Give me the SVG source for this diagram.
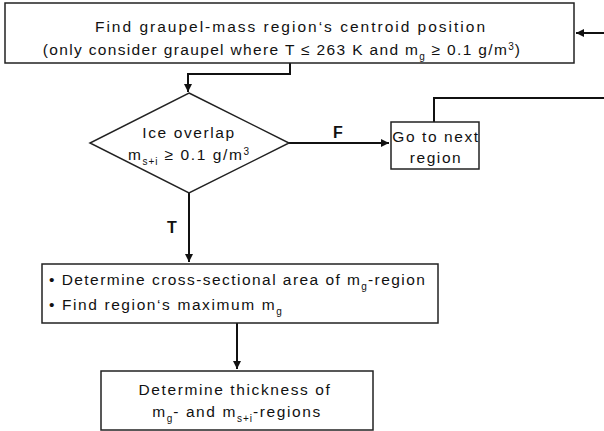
<svg xmlns="http://www.w3.org/2000/svg" width="604" height="431" viewBox="0 0 604 431">
<defs>
<marker id="arr" viewBox="0 0 10 10" refX="10" refY="5" markerWidth="4" markerHeight="4" orient="auto" markerUnits="strokeWidth">
<path d="M0,0 L10,5 L0,10 z" fill="#111"/>
</marker>
</defs>
<style>
.box{fill:#fff;stroke:#222;stroke-width:1.5}
.t{font-family:"Liberation Sans",Arial,sans-serif;font-size:15.5px;fill:#111;letter-spacing:1.6px}
.c{text-anchor:middle}
.sub{font-size:10px;letter-spacing:1px}
.lbl{font-family:"Liberation Sans",Arial,sans-serif;font-size:16px;font-weight:bold;fill:#111}
.con{fill:none;stroke:#111;stroke-width:2}
</style>
<g id="connectors">
<path class="con" d="M604,33 L576,33" marker-end="url(#arr)"/>
<path class="con" d="M290,62 L290,74 L188,74 L188,92" marker-end="url(#arr)"/>
<path class="con" d="M289,143 L389,143" marker-end="url(#arr)"/>
<path class="con" d="M434,122 L434,98 L604,98"/>
<path class="con" d="M189,193 L189,262" marker-end="url(#arr)"/>
<path class="con" d="M237,323 L237,369" marker-end="url(#arr)"/>
<text class="lbl" x="333" y="138">F</text>
<text class="lbl" x="167" y="233">T</text>
</g>
<g id="n1">
<rect class="box" x="5" y="3" width="569" height="60"/>
<text class="t c" x="291" y="32" style="letter-spacing:2px">Find graupel-mass region‘s centroid position</text>
<text class="t c" x="282" y="55" style="letter-spacing:1.35px">(only consider graupel where T ≤ 263 K and m<tspan class="sub" dy="5">g</tspan><tspan dy="-5"> ≥ 0.1 g/m</tspan><tspan class="sub" dy="-5">3</tspan><tspan dy="5">)</tspan></text>
</g>
<g id="n2">
<path class="box" d="M189,93 L289,143 L189,193 L90,143 Z"/>
<text class="t c" x="189" y="138">Ice overlap</text>
<text class="t c" x="189" y="160">m<tspan class="sub" dy="5">s+i</tspan><tspan dy="-5"> ≥ 0.1 g/m</tspan><tspan class="sub" dy="-5">3</tspan></text>
</g>
<g id="n3">
<rect class="box" x="391" y="122" width="88" height="47"/>
<text class="t c" x="436" y="142">Go to next</text>
<text class="t c" x="436" y="163">region</text>
</g>
<g id="n4">
<rect class="box" x="42" y="264" width="396" height="59"/>
<text class="t" x="49" y="285" style="letter-spacing:1.45px">• Determine cross-sectional area of m<tspan class="sub" dy="5">g</tspan><tspan dy="-5">-region</tspan></text>
<text class="t" x="49" y="310">• Find region‘s maximum m<tspan class="sub" dy="5">g</tspan></text>
</g>
<g id="n5">
<rect class="box" x="101" y="371" width="272" height="59"/>
<text class="t c" x="235" y="395">Determine thickness of</text>
<text class="t c" x="237" y="417">m<tspan class="sub" dy="5">g</tspan><tspan dy="-5">- and m</tspan><tspan class="sub" dy="5">s+i</tspan><tspan dy="-5">-regions</tspan></text>
</g>
</svg>
